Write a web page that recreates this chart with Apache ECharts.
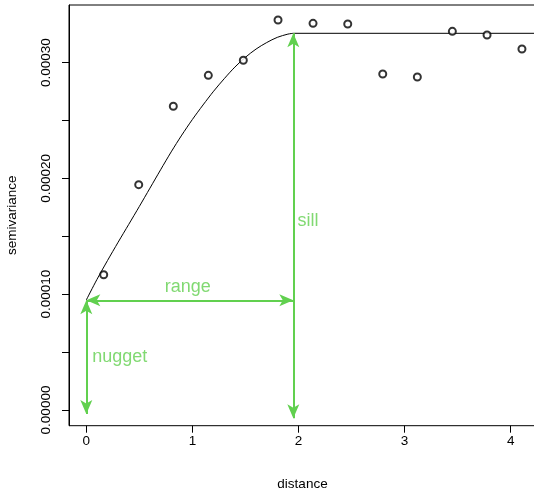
<!DOCTYPE html>
<html>
<head>
<meta charset="utf-8">
<script src="https://cdn.jsdelivr.net/npm/echarts@6/dist/echarts.min.js"></script>
<style>
  html, body { margin: 0; padding: 0; background: #fff; }
  #chart { width: 534px; height: 491px; }
</style>
</head>
<body>
<div id="chart"></div>
<script>
// ---- data ----
const xTicks = [0, 1, 2, 3, 4];
const yTicks = [0, 0.00005, 0.0001, 0.00015, 0.0002, 0.00025, 0.0003, 0.00035];
const yTickLabels = [0, 0.0001, 0.0002, 0.0003];

// empirical semivariogram points
const lagDistance = [0.164, 0.494, 0.820, 1.150, 1.480, 1.807, 2.137, 2.464, 2.794, 3.120, 3.450, 3.777, 4.106];
const semivariance = [0.0001168, 0.0001946, 0.0002623, 0.0002890, 0.0003020, 0.0003368, 0.0003339, 0.0003333,
                      0.0002902, 0.0002876, 0.0003270, 0.0003238, 0.0003117];

// fitted model curve
const modelDistance = [0, 0.1, 0.2, 0.3, 0.4, 0.5, 0.6, 0.7, 0.8, 0.9, 1.0,
                       1.1, 1.2, 1.3, 1.4, 1.5, 1.6, 1.7, 1.8, 1.9, 1.951];
const modelSemivariance = [0.0000950, 0.0001127, 0.0001291, 0.0001449, 0.0001603, 0.0001758, 0.0001916,
                           0.0002074, 0.0002229, 0.0002374, 0.0002509, 0.0002634, 0.0002753, 0.0002861,
                           0.0002961, 0.0003046, 0.0003117, 0.0003173, 0.0003218, 0.0003246, 0.0003253];

// model parameters
const nugget = 0.0000947;
const sill = 0.0003253;
const range = 1.951;
const sillLineEnd = 4.4;
const nuggetArrowBottom = -0.0000035;
const sillArrowBottom = -0.0000072;

// annotation labels
const annotationText = ['nugget', 'range', 'sill'];
const annotationX = [0.0509, 0.9566, 1.986];
const annotationY = [0.0000460, 0.0001065, 0.0001632];

const green = '#61D04F';
const font = 'Liberation Sans, Arial, Helvetica, sans-serif';

const chart = echarts.init(document.getElementById('chart'), null, { renderer: 'canvas' });

const annotationData = annotationText.map((t, i) => ({
  value: [annotationX[i], annotationY[i]],
  name: t,
  label: {
    position: t === 'range' ? 'inside' : 'right',
    distance: 0
  }
}));

chart.setOption({
  animation: false,
  backgroundColor: '#fff',
  textStyle: { fontFamily: font },
  grid: {
    left: 69, right: -2, top: 5, bottom: 65.3,
    containLabel: false,
    outerBoundsMode: 'none',
    show: true, borderColor: '#000', borderWidth: 1, backgroundColor: 'transparent'
  },
  xAxis: {
    type: 'value',
    min: -0.1631, max: 4.2384,
    splitLine: { show: false },
    axisLine: { show: false, onZero: false },
    axisTick: { show: true, length: 7, lineStyle: { color: '#000', width: 1 }, customValues: xTicks },
    axisLabel: {
      color: '#000', fontSize: 13.5, margin: 9, fontFamily: font,
      customValues: xTicks,
      formatter: v => String(v)
    },
    name: 'distance',
    nameLocation: 'middle',
    nameGap: 52,
    nameTextStyle: { color: '#000', fontSize: 13.5, fontFamily: font }
  },
  yAxis: {
    type: 'value',
    min: -0.00001356, max: 0.00034974,
    splitLine: { show: false },
    axisLine: { show: true, onZero: false, lineStyle: { color: '#000', width: 1 } },
    axisTick: { show: true, length: 7, lineStyle: { color: '#000', width: 1 }, customValues: yTicks },
    axisLabel: {
      color: '#000', fontSize: 13.5, margin: 16, rotate: 90, fontFamily: font,
      customValues: yTickLabels,
      formatter: v => Number(v).toFixed(5)
    },
    name: 'semivariance',
    nameLocation: 'middle',
    nameGap: 50,
    nameRotate: 90,
    nameTextStyle: { color: '#000', fontSize: 13.5, fontFamily: font }
  },
  series: [
    {
      type: 'line',
      name: 'model',
      data: modelDistance.map((x, i) => [x, modelSemivariance[i]]),
      smooth: 0.3,
      showSymbol: false,
      symbol: 'none',
      lineStyle: { color: '#000', width: 1 },
      silent: true,
      z: 2
    },
    {
      type: 'line',
      name: 'sillLine',
      data: [[range, sill], [sillLineEnd, sill]],
      showSymbol: false,
      symbol: 'none',
      lineStyle: { color: '#000', width: 1 },
      silent: true,
      z: 2,
      markLine: {
        silent: true,
        symbol: ['arrow', 'arrow'],
        symbolSize: [9, 14],
        label: { show: false },
        lineStyle: { color: green, width: 2, type: 'solid' },
        emphasis: { disabled: true },
        data: [
          [{ coord: [0, nugget] }, { coord: [0, nuggetArrowBottom] }],
          [{ coord: [0, nugget] }, { coord: [range, nugget] }],
          [{ coord: [range, sill] }, { coord: [range, sillArrowBottom] }]
        ]
      }
    },
    {
      type: 'scatter',
      name: 'points',
      data: lagDistance.map((x, i) => [x, semivariance[i]]),
      symbol: 'emptyCircle',
      symbolSize: 7,
      itemStyle: { color: '#000', borderColor: '#000', borderWidth: 0.8 },
      silent: true,
      z: 3
    },
    {
      type: 'scatter',
      name: 'annotations',
      data: annotationData,
      symbol: 'circle',
      symbolSize: 1,
      itemStyle: { color: 'rgba(0,0,0,0)' },
      silent: true,
      label: {
        show: true,
        formatter: p => p.name,
        color: green,
        fontSize: 18,
        fontFamily: font
      },
      z: 4
    }
  ]
});
</script>
</body>
</html>
